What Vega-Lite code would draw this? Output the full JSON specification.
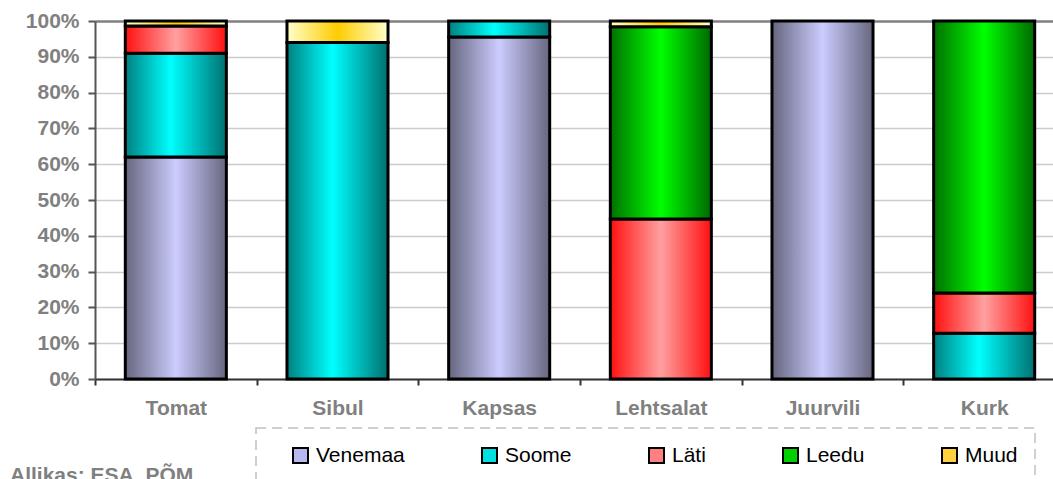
{
  "$schema": "https://vega.github.io/schema/vega-lite/v6.json",
  "width": 958,
  "height": 358,
  "autosize": {"type": "none"},
  "padding": {"left": 95, "top": 21, "right": 0, "bottom": 100},
  "background": "white",
  "config": {"view": {"stroke": null}, "font": "Liberation Sans"},
  "title": {
    "text": "Allikas: ESA, PÕM",
    "orient": "bottom",
    "anchor": "start",
    "frame": "group",
    "dx": -85,
    "offset": -20,
    "font": "Liberation Sans",
    "fontSize": 21,
    "fontWeight": "bold",
    "color": "#808080"
  },
  "data": {
    "values": [
      {"c": "Tomat", "s": "Venemaa", "v": 62},
      {"c": "Tomat", "s": "Soome", "v": 29},
      {"c": "Tomat", "s": "Läti", "v": 7.6},
      {"c": "Tomat", "s": "Muud", "v": 1.4},
      {"c": "Sibul", "s": "Soome", "v": 94},
      {"c": "Sibul", "s": "Muud", "v": 6},
      {"c": "Kapsas", "s": "Venemaa", "v": 95.5},
      {"c": "Kapsas", "s": "Soome", "v": 4.5},
      {"c": "Lehtsalat", "s": "Läti", "v": 44.7},
      {"c": "Lehtsalat", "s": "Leedu", "v": 53.7},
      {"c": "Lehtsalat", "s": "Muud", "v": 1.6},
      {"c": "Juurvili", "s": "Venemaa", "v": 100},
      {"c": "Kurk", "s": "Soome", "v": 12.8},
      {"c": "Kurk", "s": "Läti", "v": 11.2},
      {"c": "Kurk", "s": "Leedu", "v": 76}
    ]
  },
  "transform": [
    {"stack": "v", "groupby": ["c"], "as": ["y0", "y1"], "offset": "normalize"}
  ],
  "encoding": {
    "x": {
      "field": "c",
      "type": "nominal",
      "sort": ["Tomat", "Sibul", "Kapsas", "Lehtsalat", "Juurvili", "Kurk"],
      "scale": {"range": [0, 970], "paddingInner": 0, "paddingOuter": 0},
      "axis": {
        "title": null,
        "labelAngle": 0,
        "labelFont": "Liberation Sans",
        "labelFontSize": 21,
        "labelFontWeight": "bold",
        "labelColor": "#808080",
        "labelPadding": 12,
        "tickBand": "extent",
        "ticks": true,
        "tickSize": 6,
        "tickWidth": 2,
        "tickColor": "#333333",
        "domainColor": "#333333",
        "domainWidth": 2
      }
    },
    "y": {
      "field": "y0",
      "type": "quantitative",
      "scale": {"domain": [0, 1], "nice": false},
      "axis": {
        "title": null,
        "values": [0, 0.1, 0.2, 0.3, 0.4, 0.5, 0.6, 0.7, 0.8, 0.9, 1],
        "format": ".0%",
        "labelFont": "Liberation Sans",
        "labelFontSize": 21,
        "labelFontWeight": "bold",
        "labelColor": "#808080",
        "labelPadding": 9,
        "tickSize": 7,
        "tickWidth": 2,
        "tickColor": "#555555",
        "domainColor": "#555555",
        "domainWidth": 2,
        "grid": true,
        "gridColor": {"condition": {"test": "datum.value == 1", "value": "#808080"}, "value": "#cccccc"},
        "gridWidth": {"condition": {"test": "datum.value == 1", "value": 2.5}, "value": 1.5}
      }
    },
    "y2": {"field": "y1"}
  },
  "layer": [
    {
      "mark": {"type": "bar", "width": {"band": 0.625}},
      "encoding": {
        "color": {
          "field": "s",
          "type": "nominal",
          "scale": {
            "domain": ["Venemaa", "Soome", "Läti", "Leedu", "Muud"],
            "range": ["#b8b8f0", "#00e0e0", "#ff8080", "#00d000", "#ffd040"]
          },
          "legend": {
            "title": " ",
            "titleOrient": "left",
            "titlePadding": 17,
            "titleFontSize": 11,
            "orient": "none",
            "legendX": 161,
            "legendY": 407,
            "direction": "horizontal",
            "columnPadding": 73,
            "symbolType": "square",
            "symbolSize": 225,
            "symbolStrokeColor": "black",
            "symbolStrokeWidth": 2,
            "symbolOpacity": 1,
            "labelFont": "Liberation Sans",
            "labelFontSize": 21,
            "labelColor": "black",
            "labelOffset": 5,
            "padding": 17,
            "strokeColor": "#c0c0c0",
            "encode": {"legend": {"update": {"strokeDash": {"value": [10, 6]}, "strokeWidth": {"value": 1.5}}}}
          }
        }
      }
    },
    {
      "transform": [{"filter": "datum.s == 'Venemaa'"}],
      "mark": {"type": "bar", "width": {"band": 0.625}, "stroke": "black", "strokeWidth": 3,
        "fill": {"gradient": "linear", "x1": 0, "y1": 0, "x2": 1, "y2": 0,
          "stops": [{"offset": 0, "color": "#66667f"}, {"offset": 0.5, "color": "#ccccff"}, {"offset": 1, "color": "#66667f"}]}}
    },
    {
      "transform": [{"filter": "datum.s == 'Soome'"}],
      "mark": {"type": "bar", "width": {"band": 0.625}, "stroke": "black", "strokeWidth": 3,
        "fill": {"gradient": "linear", "x1": 0, "y1": 0, "x2": 1, "y2": 0,
          "stops": [{"offset": 0, "color": "#008080"}, {"offset": 0.45, "color": "#00ffff"}, {"offset": 1, "color": "#007070"}]}}
    },
    {
      "transform": [{"filter": "datum.s == 'Läti'"}],
      "mark": {"type": "bar", "width": {"band": 0.625}, "stroke": "black", "strokeWidth": 3,
        "fill": {"gradient": "linear", "x1": 0, "y1": 0, "x2": 1, "y2": 0,
          "stops": [{"offset": 0, "color": "#ff1010"}, {"offset": 0.5, "color": "#ffa0a0"}, {"offset": 1, "color": "#ff1010"}]}}
    },
    {
      "transform": [{"filter": "datum.s == 'Leedu'"}],
      "mark": {"type": "bar", "width": {"band": 0.625}, "stroke": "black", "strokeWidth": 3,
        "fill": {"gradient": "linear", "x1": 0, "y1": 0, "x2": 1, "y2": 0,
          "stops": [{"offset": 0, "color": "#007000"}, {"offset": 0.5, "color": "#00ff00"}, {"offset": 1, "color": "#006800"}]}}
    },
    {
      "transform": [{"filter": "datum.s == 'Muud'"}],
      "mark": {"type": "bar", "width": {"band": 0.625}, "stroke": "black", "strokeWidth": 3,
        "fill": {"gradient": "linear", "x1": 0, "y1": 0, "x2": 1, "y2": 0,
          "stops": [{"offset": 0, "color": "#ffffcc"}, {"offset": 0.5, "color": "#ffcc00"}, {"offset": 1, "color": "#ffffcc"}]}}
    }
  ]
}
